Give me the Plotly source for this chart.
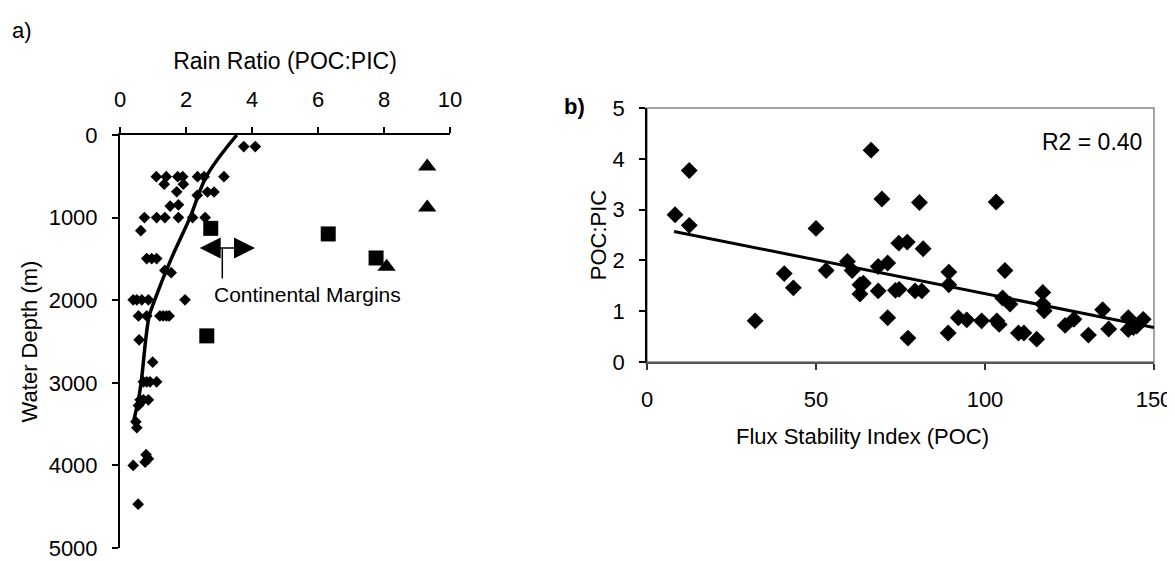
import plotly.graph_objects as go

# The page body adds an 8 px margin, so the figure is drawn 8 px smaller and
# all layout positions (taken in window pixels) are shifted by that offset.
WIN_W, WIN_H = 1175, 561
OFF = 8
W, H = WIN_W - OFF, WIN_H - OFF


def px(x):
    return (x - OFF) / W


def py(y):
    return 1 - (y - OFF) / H


# ---------------- Panel a data ----------------
# diamonds: rain ratio (POC:PIC) vs water depth (m)
a_dia_ratio = [3.75, 4.1,
               1.1, 1.4, 1.75, 1.9, 2.35, 2.55, 3.15,
               1.34, 1.92, 1.72, 2.34, 2.65, 2.85, 1.52, 1.77,
               0.74, 1.11, 1.36, 1.77, 2.2, 2.58,
               0.63, 0.81, 0.96, 1.11, 1.36, 1.55,
               0.40, 0.51, 0.66, 0.86, 1.97,
               0.56, 0.81, 1.21, 1.31, 1.41, 1.49,
               0.58, 0.99,
               0.71, 0.81, 0.91, 1.11,
               0.61, 0.71, 0.86, 0.56,
               0.48, 0.51,
               0.79, 0.86, 0.76, 0.40, 0.55]
a_dia_depth = [140, 140,
               504, 504, 504, 504, 504, 504, 504,
               595, 595, 687, 730, 690, 690, 860, 845,
               1000, 1000, 1000, 1000, 1000, 1000,
               1158, 1496, 1496, 1496, 1640, 1667,
               1996, 1996, 1996, 1996, 1996,
               2190, 2190, 2190, 2190, 2190, 2190,
               2480, 2750,
               2988, 2988, 2988, 2988,
               3206, 3206, 3206, 3274,
               3472, 3544,
               3870, 3920, 3960, 4000, 4470]
a_sq_ratio = [2.75, 6.31, 7.76, 2.63]
a_sq_depth = [1130, 1198, 1489, 2432]
a_tri_ratio = [9.31, 9.31, 8.08]
a_tri_depth = [380, 878, 1596]
# fitted curve
a_fit_ratio = [3.54, 2.62, 2.12, 1.55, 1.05, 0.88, 0.64, 0.56, 0.42]
a_fit_depth = [0, 500, 1000, 1500, 2000, 2200, 3000, 3200, 3450]
a_xticks = [0, 2, 4, 6, 8, 10]
a_yticks = [0, 1000, 2000, 3000, 4000, 5000]

# "Continental Margins" double arrow annotation (data coords)
arrow_x0, arrow_x1, arrow_depth = 2.37, 4.09, 1369
stem_x, stem_d0, stem_d1 = 3.1, 1369, 1737
cm_text_x, cm_text_depth = 2.78, 1925

# ---------------- Panel b data ----------------
b_x = [8.3, 12.5, 12.5, 32, 40.6, 43.3, 50, 53, 59.3, 60.7, 63, 64, 63, 66.3,
       68.4, 68.4, 69.5, 71.2, 71.2, 73.5, 74.6, 74.5, 77, 77.2, 79.3, 81.3,
       80.6, 81.7, 89.3, 89.3, 89.1, 92.1, 94.6, 99, 103.3, 103.5, 104.2,
       105.9, 105.2, 107.4, 109.9, 111.5, 115.3, 117.1, 117.1, 117.5, 123.7,
       126.3, 130.6, 134.8, 136.6, 142.4, 142.4, 143.9, 144.9, 146.8]
b_y = [2.90, 3.77, 2.69, 0.81, 1.74, 1.46, 2.63, 1.80, 1.98, 1.80, 1.52, 1.55, 1.34, 4.17,
       1.88, 1.40, 3.21, 1.95, 0.87, 1.41, 1.43, 2.34, 2.36, 0.47, 1.40, 1.40,
       3.14, 2.23, 1.77, 1.52, 0.57, 0.87, 0.83, 0.81, 3.15, 0.81, 0.74,
       1.80, 1.26, 1.14, 0.57, 0.57, 0.45, 1.37, 1.14, 1.01, 0.72,
       0.84, 0.53, 1.03, 0.65, 0.87, 0.64, 0.68, 0.71, 0.84]
b_trend_x = [8, 150]
b_trend_y = [2.57, 0.68]
b_xticks = [0, 50, 100, 150]
b_yticks = [0, 1, 2, 3, 4, 5]
r2_label = "R2 = 0.40"

FONT = "Liberation Sans, Arial, sans-serif"
FS = 22

fig = go.Figure()

# panel a
fig.add_trace(go.Scatter(x=a_fit_ratio, y=a_fit_depth, mode="lines",
                         line=dict(color="black", width=3.5, shape="spline"),
                         xaxis="x", yaxis="y", showlegend=False, hoverinfo="skip"))
fig.add_trace(go.Scatter(x=a_dia_ratio, y=a_dia_depth, mode="markers",
                         marker=dict(symbol="diamond", size=9, color="black"),
                         xaxis="x", yaxis="y", showlegend=False))
fig.add_trace(go.Scatter(x=a_sq_ratio, y=a_sq_depth, mode="markers",
                         marker=dict(symbol="square", size=15, color="black"),
                         xaxis="x", yaxis="y", showlegend=False))
fig.add_trace(go.Scatter(x=a_tri_ratio, y=a_tri_depth, mode="markers",
                         marker=dict(symbol="triangle-up", size=16, color="black"),
                         xaxis="x", yaxis="y", showlegend=False))

# panel b
fig.add_trace(go.Scatter(x=b_trend_x, y=b_trend_y, mode="lines",
                         line=dict(color="black", width=3),
                         xaxis="x2", yaxis="y2", showlegend=False, hoverinfo="skip"))
fig.add_trace(go.Scatter(x=b_x, y=b_y, mode="markers",
                         marker=dict(symbol="diamond", size=13, color="black"),
                         xaxis="x2", yaxis="y2", showlegend=False))

axis_common = dict(showgrid=False, zeroline=False, showline=True, linecolor="black",
                   linewidth=2, ticks="outside", ticklen=6, tickwidth=1.5,
                   tickcolor="black", tickfont=dict(size=FS), automargin=False,
                   ticklabeloverflow="allow")

fig.update_layout(
    width=W, height=H,
    margin=dict(l=0, r=0, t=0, b=0, autoexpand=False),
    paper_bgcolor="white", plot_bgcolor="white",
    font=dict(family=FONT, size=FS, color="black"),
    xaxis=dict(domain=[px(120), px(450)], range=[0, 10], side="top", anchor="y",
               tickvals=a_xticks, ticklabelstandoff=11,
               title=dict(text="Rain Ratio (POC:PIC)", standoff=11, font=dict(size=23)),
               **axis_common),
    yaxis=dict(domain=[py(548), py(135)], range=[5000, 0], anchor="x",
               tickvals=a_yticks, ticklabelstandoff=10,
               title=dict(text="Water Depth (m)", standoff=5, font=dict(size=FS)),
               **axis_common),
    xaxis2=dict(domain=[px(647), px(1154)], range=[0, 150], anchor="y2",
                tickvals=b_xticks, ticklabelstandoff=11,
                **{**axis_common, "linecolor": "#555555", "tickcolor": "#333333"}),
    yaxis2=dict(domain=[py(362), py(108)], range=[0, 5], anchor="x2",
                tickvals=b_yticks, ticklabelstandoff=10,
                title=dict(text="POC:PIC", standoff=0, font=dict(size=FS)),
                **{**axis_common, "linewidth": 1.5}),
    shapes=[
        dict(type="rect", xref="x2 domain", yref="y2 domain", x0=0, x1=1, y0=0, y1=1,
             line=dict(color="#888888", width=1.5), layer="below"),
        dict(type="line", xref="x", yref="y", x0=stem_x, x1=stem_x, y0=stem_d0, y1=stem_d1,
             line=dict(color="black", width=1.5)),
    ],
    annotations=[
        dict(xref="x", yref="y", axref="x", ayref="y", x=arrow_x1, y=arrow_depth,
             ax=arrow_x0, ay=arrow_depth, text="", showarrow=True, arrowhead=2,
             arrowside="end+start", arrowsize=2.8, arrowwidth=1.5, arrowcolor="black"),
        dict(xref="x", yref="y", x=cm_text_x, y=cm_text_depth, text="Continental Margins",
             showarrow=False, xanchor="left", yanchor="middle", font=dict(size=21)),
        dict(xref="x2", yref="y2", x=147, y=4.34, text=r2_label, showarrow=False,
             xanchor="right", yanchor="middle", font=dict(size=23)),
        # x-axis title of panel b (offset left of the plot centre, as in the reference)
        dict(xref="paper", yref="paper", x=px(862), y=py(436),
             text="Flux Stability Index (POC)", showarrow=False,
             xanchor="center", yanchor="middle", font=dict(size=FS)),
        dict(xref="paper", yref="paper", x=px(10), y=py(30), text="a)", showarrow=False,
             xanchor="left", yanchor="middle", font=dict(size=FS)),
        dict(xref="paper", yref="paper", x=px(562), y=py(107), text="<b>b)</b>",
             showarrow=False, xanchor="left", yanchor="middle", font=dict(size=FS)),
    ],
)

fig.write_html("out.html")
